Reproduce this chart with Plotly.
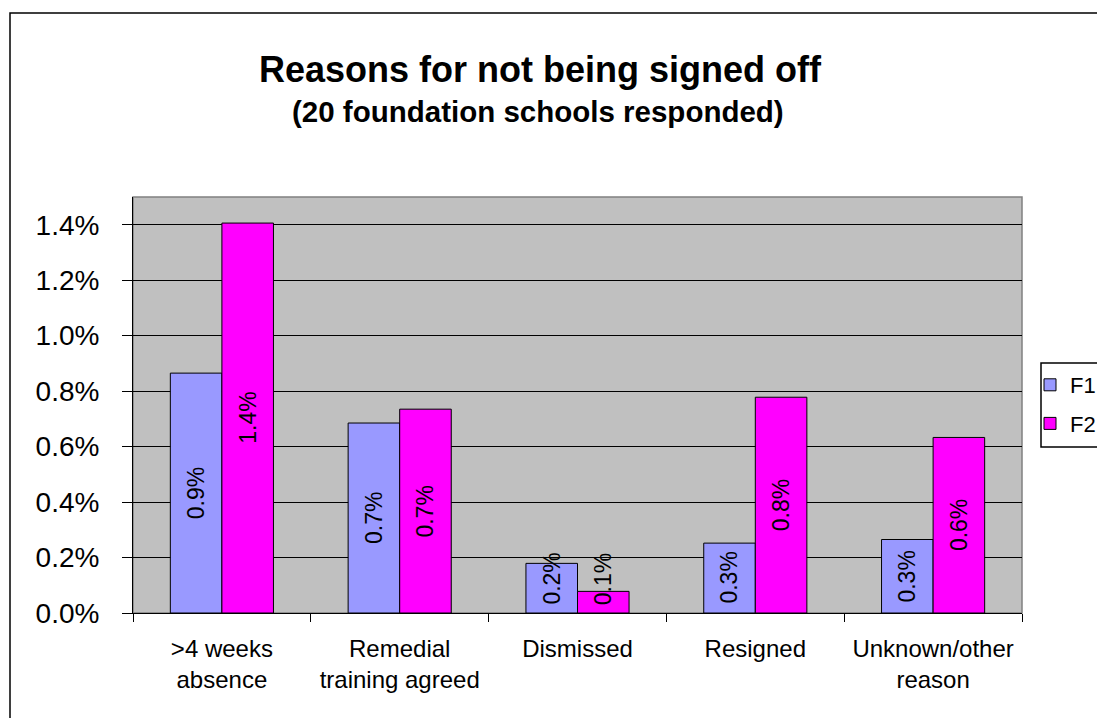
import plotly.graph_objects as go

categories = [">4 weeks<br>absence", "Remedial<br>training agreed", "Dismissed", "Resigned", "Unknown/other<br>reason"]
f1_values = [0.00865, 0.00685, 0.00179, 0.00252, 0.00265]
f2_values = [0.01406, 0.00735, 0.00078, 0.00778, 0.00633]
series_names = ["F1", "F2"]
y_ticks = [0.0, 0.002, 0.004, 0.006, 0.008, 0.010, 0.012, 0.014]

FONT = "Liberation Sans, Arial, sans-serif"
OFF = 8  # page body margin
W, H = 1105 - OFF, 718 - OFF
# plot area in page pixels: x 133..1022, y 197..613
L, T = 133 - OFF, 197 - OFF
R = W - (1022 - OFF)
B = H - (613 - OFF)
pw, ph = W - L - R, H - T - B

def px_x(p):
    return (p - OFF - L) / pw

def px_y(p):
    return (H - B - (p - OFF)) / ph

fig = go.Figure()
colors = ["#9999FF", "#FF00FF"]
for name, vals, col in zip(series_names, [f1_values, f2_values], colors):
    fig.add_trace(go.Bar(
        name=name, x=categories, y=vals, legendgroup=name,
        marker=dict(color=col, line=dict(color="black", width=1)),
    ))

# data labels (rotated, centred in bars, kept above the axis)
bar_w_px = pw / 5 * (1 - 0.42) / 2
min_centre = 0.00123
for si, vals in enumerate([f1_values, f2_values]):
    shift = (-0.5 if si == 0 else 0.5) * bar_w_px
    for c, v in zip(categories, vals):
        fig.add_annotation(
            x=c, y=max(v / 2, min_centre), xref="x", yref="y",
            xshift=shift, text=f"{v*100:.1f}%", textangle=-90,
            showarrow=False, font=dict(family=FONT, size=23, color="black"),
        )

# title
fig.add_annotation(x=px_x(540), y=px_y(69), xref="paper", yref="paper",
                   text="<b>Reasons for not being signed off</b>", showarrow=False,
                   font=dict(family=FONT, size=36, color="black"), xanchor="center", yanchor="middle")
fig.add_annotation(x=px_x(538), y=px_y(111), xref="paper", yref="paper",
                   text="<b>(20 foundation schools responded)</b>", showarrow=False,
                   font=dict(family=FONT, size=29.5, color="black"), xanchor="center", yanchor="middle")

# outer chart frame
fig.add_shape(type="rect", xref="paper", yref="paper",
              x0=px_x(10), x1=px_x(1125), y0=px_y(13), y1=px_y(740),
              line=dict(color="black", width=1.5), layer="below")
# plot area border (grey)
fig.add_shape(type="rect", xref="paper", yref="paper", x0=0, x1=1, y0=0, y1=1,
              line=dict(color="#808080", width=1.5), layer="below")
# legend frame
fig.add_shape(type="rect", xref="paper", yref="paper",
              x0=px_x(1041), x1=px_x(1125), y0=px_y(363), y1=px_y(447),
              line=dict(color="black", width=1.5), layer="below")

fig.update_layout(
    width=W, height=H,
    margin=dict(l=L, r=R, t=T, b=B, pad=0, autoexpand=False),
    paper_bgcolor="white", plot_bgcolor="#C0C0C0",
    barmode="group", bargap=0.42, bargroupgap=0,
    showlegend=True,
    legend=dict(x=px_x(1030), y=px_y(364), xanchor="left", yanchor="top",
                bgcolor="rgba(0,0,0,0)", borderwidth=0,
                font=dict(family=FONT, size=22, color="black"),
                tracegroupgap=7, itemwidth=30),
    font=dict(family=FONT, color="black"),
)
fig.update_yaxes(range=[0, 0.015], tickvals=y_ticks, tickformat=".1%",
                 showgrid=True, gridcolor="black", gridwidth=1,
                 showline=True, linecolor="black", linewidth=1,
                 ticks="outside", ticklen=10, tickcolor="black",
                 ticklabelstandoff=17,
                 tickfont=dict(family=FONT, size=28, color="black"), zeroline=False)
fig.update_xaxes(showline=True, linecolor="black", linewidth=1,
                 ticks="outside", ticklen=8, tickcolor="black", tickson="boundaries",
                 ticklabelstandoff=14,
                 tickfont=dict(family=FONT, size=24, color="black"), showgrid=False)

fig.write_html("out.html")
